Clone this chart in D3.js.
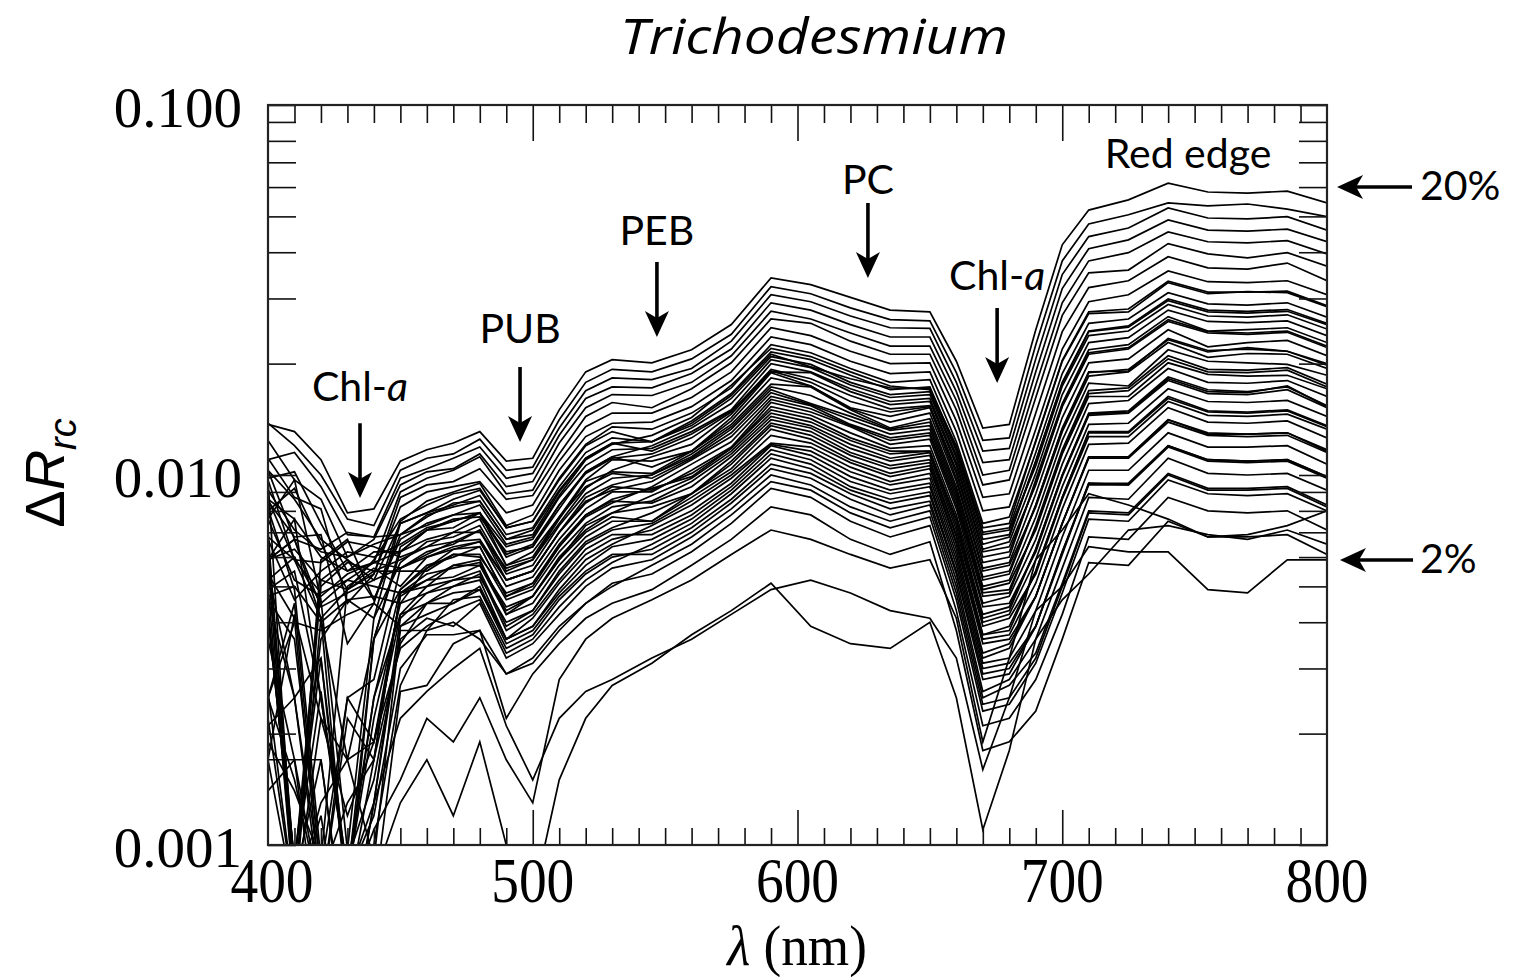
<!DOCTYPE html>
<html><head><meta charset="utf-8">
<script src="https://cdn.jsdelivr.net/npm/d3@7"></script>
<style>
html,body{margin:0;padding:0;background:#fff;}
svg{display:block;}
</style></head>
<body>
<svg id="chart" width="1532" height="977"></svg>
<script>
// Wavelength grid (nm) shared by every spectrum
const wavelengths = [400,410,420,430,440,450,460,470,480,490,500,510,520,530,545,560,575,590,605,620,635,650,660,670,680,690,700,710,725,740,755,770,785,800];

// ΔRrc spectra
const r01 = [.0137,.0131,.0110,.0079,.0081,.0109,.0117,.0122,.0131,.0109,.0111,.0150,.0190,.0205,.0201,.0218,.0255,.0341,.0327,.0302,.0279,.0276,.0203,.0134,.0137,.0247,.0419,.0520,.0554,.0615,.0582,.0578,.0585,.0544];
const r02 = [.0138,.0120,.0100,.0076,.0073,.0103,.0111,.0114,.0125,.0103,.0105,.0141,.0178,.0193,.0190,.0206,.0240,.0323,.0309,.0283,.0263,.0261,.0189,.0124,.0126,.0225,.0379,.0477,.0505,.0544,.0534,.0540,.0523,.0499];
const r03 = [.0110,.0115,.0093,.0069,.0068,.0098,.0104,.0111,.0119,.0098,.0101,.0134,.0169,.0183,.0181,.0194,.0230,.0307,.0294,.0269,.0250,.0249,.0178,.0116,.0118,.0206,.0348,.0441,.0465,.0527,.0495,.0492,.0499,.0459];
const r04 = [.0124,.0097,.0086,.0060,.0067,.0094,.0102,.0104,.0114,.0093,.0096,.0128,.0161,.0173,.0172,.0188,.0219,.0292,.0279,.0255,.0236,.0236,.0168,.0108,.0110,.0190,.0319,.0409,.0432,.0489,.0459,.0456,.0462,.0427];
const r05 = [.0098,.0102,.0074,.0055,.0058,.0090,.0098,.0103,.0112,.0089,.0091,.0122,.0152,.0165,.0164,.0178,.0210,.0277,.0264,.0242,.0223,.0223,.0159,.0100,.0103,.0175,.0292,.0379,.0399,.0454,.0427,.0424,.0430,.0396];
const r06 = [.0111,.0087,.0081,.0045,.0054,.0087,.0094,.0096,.0104,.0086,.0088,.0114,.0144,.0157,.0152,.0171,.0201,.0264,.0257,.0230,.0212,.0212,.0150,.0094,.0097,.0162,.0270,.0352,.0358,.0422,.0396,.0386,.0399,.0367];
const r07 = [.0080,.0092,.0065,.0049,.0054,.0082,.0090,.0093,.0096,.0079,.0083,.0109,.0135,.0147,.0147,.0162,.0190,.0250,.0238,.0216,.0200,.0201,.0140,.0087,.0089,.0147,.0244,.0321,.0335,.0389,.0363,.0360,.0374,.0335];
const r08 = [.0085,.0068,.0069,.0035,.0045,.0075,.0085,.0090,.0095,.0073,.0078,.0103,.0127,.0138,.0139,.0153,.0180,.0236,.0225,.0203,.0188,.0190,.0131,.0080,.0082,.0133,.0219,.0294,.0307,.0356,.0333,.0331,.0335,.0307];
const r09 = [.0103,.0086,.0067,.0059,.0052,.0074,.0079,.0086,.0091,.0072,.0075,.0098,.0121,.0135,.0133,.0147,.0172,.0225,.0214,.0194,.0178,.0181,.0123,.0074,.0077,.0123,.0203,.0273,.0276,.0331,.0309,.0313,.0311,.0285];
const r10 = [.0076,.0097,.0046,.00097,.0041,.0074,.0079,.0083,.0088,.0069,.0072,.0093,.0115,.0126,.0123,.0140,.0166,.0215,.0205,.0186,.0170,.0173,.0118,.0070,.0072,.0115,.0188,.0257,.0264,.0311,.0290,.0288,.0292,.0267];
const r11 = [.0091,.0071,.0062,.0060,.0065,.0069,.0077,.0084,.0085,.0067,.0069,.0090,.0111,.0122,.0123,.0136,.0161,.0209,.0199,.0178,.0165,.0168,.0113,.0067,.0069,.0109,.0177,.0244,.0251,.0296,.0276,.0274,.0277,.0255];
const r12 = [.0067,.00086,.0052,.0059,.0046,.0067,.0074,.0078,.0079,.0064,.0067,.0087,.0106,.0117,.0118,.0131,.0150,.0200,.0190,.0171,.0158,.0161,.0108,.0063,.0066,.0101,.0165,.0228,.0235,.0279,.0260,.0258,.0261,.0238];
const r13 = [.0086,.0076,.0060,.0055,.0062,.0062,.0071,.0075,.0079,.0061,.0065,.0083,.0101,.0111,.0114,.0126,.0148,.0193,.0182,.0164,.0151,.0154,.0103,.0060,.0062,.0095,.0154,.0214,.0221,.0263,.0244,.0242,.0245,.0223];
const r14 = [.0059,.0067,.0041,.00071,.0036,.0062,.0071,.0072,.0079,.0057,.0062,.0077,.0097,.0110,.0109,.0116,.0143,.0189,.0174,.0152,.0144,.0152,.0098,.0056,.0058,.0089,.0143,.0201,.0206,.0247,.0222,.0228,.0231,.0210];
const r15 = [.0097,.0059,.0058,.0066,.0064,.0060,.0064,.0070,.0070,.0056,.0059,.0076,.0096,.0102,.0101,.0116,.0137,.0176,.0173,.0150,.0134,.0142,.0093,.0053,.0055,.0083,.0133,.0189,.0193,.0232,.0215,.0221,.0216,.0198];
const r16 = [.0071,.00071,.0050,.0058,.0055,.0059,.0064,.0066,.0071,.0054,.0057,.0073,.0089,.0098,.0100,.0112,.0133,.0170,.0156,.0144,.0132,.0136,.0089,.0050,.0052,.0077,.0124,.0177,.0174,.0218,.0203,.0201,.0199,.0186];
const r17 = [.0068,.0059,.0048,.0052,.0058,.0056,.0062,.0065,.0071,.0052,.0055,.0070,.0085,.0091,.0096,.0110,.0127,.0163,.0154,.0137,.0126,.0130,.0085,.0048,.0049,.0072,.0115,.0166,.0169,.0206,.0190,.0189,.0192,.0173];
const r18 = [.0081,.0049,.00091,.0050,.0056,.0050,.0060,.0063,.0066,.0050,.0053,.0067,.0081,.0090,.0090,.0103,.0119,.0157,.0148,.0135,.0121,.0125,.0081,.0045,.0047,.0067,.0107,.0156,.0159,.0194,.0178,.0177,.0180,.0163];
const r19 = [.0059,.0063,.0052,.0049,.0055,.0055,.0055,.0061,.0060,.0048,.0051,.0065,.0078,.0086,.0092,.0099,.0118,.0150,.0142,.0126,.0116,.0116,.0076,.0042,.0044,.0063,.0100,.0146,.0148,.0182,.0168,.0167,.0174,.0153];
const r20 = [.0062,.00086,.0026,.00081,.0022,.0045,.0056,.0061,.0061,.0046,.0049,.0062,.0074,.0082,.0085,.0096,.0114,.0144,.0136,.0121,.0111,.0115,.0073,.0040,.0042,.0059,.0093,.0137,.0138,.0171,.0158,.0157,.0159,.0144];
const r21 = [.0052,.0060,.0045,.0052,.0050,.0048,.0050,.0057,.0059,.0042,.0047,.0059,.0073,.0079,.0082,.0089,.0109,.0138,.0131,.0115,.0106,.0110,.0069,.0037,.0039,.0055,.0087,.0130,.0130,.0161,.0148,.0147,.0149,.0135];
const r22 = [.0055,.0025,.00071,.0022,.0017,.0048,.0052,.0053,.0057,.0042,.0045,.0057,.0068,.0075,.0075,.0089,.0104,.0133,.0125,.0110,.0101,.0106,.0066,.0036,.0037,.0051,.0081,.0121,.0122,.0152,.0139,.0138,.0140,.0126];
const r23 = [.0049,.0055,.0025,.00086,.0025,.0042,.0050,.0052,.0053,.0040,.0043,.0054,.0065,.0071,.0074,.0085,.0100,.0122,.0119,.0105,.0096,.0101,.0063,.0033,.0035,.0047,.0074,.0112,.0112,.0141,.0130,.0129,.0130,.0117];
const r24 = [.0050,.00071,.0022,.0017,.0019,.0042,.0045,.0050,.0052,.0036,.0041,.0051,.0061,.0067,.0071,.0080,.0095,.0120,.0113,.0099,.0091,.0095,.0059,.0031,.0032,.0043,.0068,.0103,.0103,.0130,.0119,.0119,.0120,.0107];
const r25 = [.0025,.0045,.00081,.0013,.0017,.0035,.0045,.0045,.0050,.0036,.0039,.0048,.0057,.0064,.0067,.0076,.0091,.0114,.0107,.0093,.0086,.0090,.0055,.0029,.0030,.0039,.0062,.0095,.0095,.0120,.0110,.0109,.0110,.0099];
const r26 = [.0036,.0017,.0017,.00052,.0013,.0038,.0038,.0046,.0047,.0034,.0037,.0046,.0054,.0060,.0063,.0072,.0086,.0107,.0101,.0089,.0081,.0085,.0052,.0026,.0028,.0036,.0056,.0087,.0086,.0111,.0101,.0100,.0101,.0091];
const r27 = [.0021,.0025,.00081,.00091,.0015,.0036,.0041,.0039,.0045,.0032,.0035,.0042,.0050,.0056,.0059,.0068,.0081,.0100,.0094,.0082,.0075,.0080,.0048,.0024,.0025,.0032,.0050,.0079,.0078,.0100,.0091,.0091,.0092,.0082];
const r28 = [.0022,.00071,.0012,.00043,.0010,.0027,.0038,.0040,.0036,.0029,.0032,.0039,.0045,.0051,.0054,.0062,.0074,.0092,.0087,.0075,.0068,.0073,.0043,.0021,.0022,.0028,.0042,.0068,.0067,.0087,.0080,.0079,.0080,.0071];
const r29 = [.0014,.0017,.00049,.00071,.00071,.0026,.0027,.0035,.0038,.0022,.0029,.0035,.0041,.0045,.0049,.0057,.0067,.0082,.0078,.0067,.0061,.0066,.0038,.0018,.0019,.0023,.0036,.0058,.0057,.0075,.0068,.0068,.0069,.0061];
const r30 = [.0025,.0015,.00071,.00081,.0013,.0022,.0026,.0030,.0034,.0021,.0015,.0022,.0026,.0028,.0032,.0036,.0042,.0049,.0052,.0048,.0043,.0041,.0032,.0016,.0025,.0043,.0050,.0064,.0062,.0062,.0049,.0048,.0059,.0059];
const r31 = [.0017,.00071,.00086,.00052,.00081,.0013,.0017,.0012,.0019,.0010,.00071,.0015,.0022,.0027,.0031,.0037,.0043,.0051,.0039,.0035,.0034,.0040,.0025,.0011,.0018,.0036,.0046,.0054,.0071,.0073,.0069,.0067,.0071,.0065];
const r32 = [.0019,.0014,.00091,.00071,.0011,.0015,.0022,.0019,.0025,.0017,.0013,.0028,.0036,.0041,.0046,.0052,.0061,.0071,.0067,.0061,.0056,.0059,.0041,.0019,.0032,.0059,.0071,.0089,.0083,.0076,.0068,.0069,.0073,.0080];
const m01 = [.0097,.00071,.0059,.0067,.0046,.0069,.0073,.0078,.0083,.0065,.0068,.0088,.0110,.0121,.0128,.0143,.0175,.0220,.0209,.0190,.0174,.0170,.0120,.0072,.0074,.0124,.0204,.0276,.0281,.0334,.0312,.0312,.0314,.0287];
const m02 = [.0086,.0059,.0041,.0049,.0059,.0076,.0083,.0089,.0092,.0072,.0075,.0097,.0120,.0131,.0123,.0138,.0164,.0212,.0196,.0182,.0172,.0171,.0116,.0069,.0071,.0106,.0174,.0238,.0245,.0289,.0269,.0267,.0271,.0248];
const m03 = [.0059,.0076,.0025,.00081,.0036,.0064,.0071,.0076,.0077,.0062,.0064,.0083,.0102,.0112,.0120,.0134,.0156,.0205,.0195,.0175,.0162,.0165,.0111,.0065,.0068,.0109,.0178,.0245,.0253,.0299,.0279,.0277,.0280,.0257];
const m04 = [.0103,.0067,.0063,.0070,.0068,.0069,.0078,.0082,.0085,.0067,.0071,.0091,.0111,.0122,.0116,.0129,.0149,.0190,.0189,.0168,.0155,.0158,.0106,.0062,.0064,.0094,.0153,.0212,.0219,.0260,.0242,.0240,.0243,.0221];
const m05 = [.0041,.00091,.0036,.0046,.0041,.0058,.0066,.0068,.0073,.0055,.0059,.0074,.0092,.0103,.0112,.0121,.0146,.0191,.0178,.0158,.0148,.0153,.0101,.0058,.0060,.0097,.0156,.0218,.0225,.0268,.0245,.0247,.0250,.0228];
const m06 = [.0067,.0046,.0055,.0062,.0060,.0065,.0072,.0075,.0079,.0060,.0064,.0081,.0102,.0112,.0105,.0116,.0140,.0183,.0174,.0151,.0139,.0147,.0096,.0055,.0057,.0082,.0131,.0185,.0190,.0228,.0208,.0213,.0212,.0194];
const m07 = [.0046,.0036,.00086,.0025,.0028,.0056,.0060,.0064,.0066,.0052,.0055,.0070,.0087,.0094,.0100,.0114,.0135,.0173,.0164,.0147,.0133,.0139,.0091,.0052,.0054,.0083,.0134,.0190,.0191,.0234,.0217,.0219,.0216,.0200];
const m08 = [.0076,.0052,.0047,.0054,.0058,.0062,.0067,.0070,.0076,.0057,.0060,.0077,.0093,.0101,.0098,.0111,.0130,.0167,.0155,.0141,.0129,.0133,.0087,.0049,.0051,.0071,.0114,.0163,.0163,.0201,.0187,.0185,.0186,.0171];
const m09 = [.0058,.00071,.0041,.0017,.0036,.0049,.0057,.0060,.0064,.0047,.0050,.0064,.0077,.0084,.0093,.0107,.0123,.0160,.0151,.0136,.0124,.0128,.0083,.0047,.0048,.0073,.0117,.0169,.0172,.0210,.0193,.0192,.0195,.0176];
const m10 = [.0059,.0067,.0044,.0048,.0052,.0056,.0061,.0066,.0067,.0052,.0055,.0070,.0084,.0093,.0091,.0101,.0118,.0153,.0145,.0130,.0118,.0120,.0078,.0044,.0045,.0062,.0099,.0145,.0147,.0180,.0166,.0165,.0170,.0152];
const m11 = [.0054,.0041,.00071,.0025,.0019,.0047,.0052,.0057,.0057,.0044,.0047,.0060,.0071,.0079,.0088,.0098,.0116,.0147,.0139,.0124,.0114,.0116,.0075,.0041,.0043,.0063,.0100,.0147,.0149,.0184,.0170,.0168,.0173,.0154];
const m12 = [.0046,.0025,.0032,.00081,.0025,.0049,.0056,.0063,.0064,.0047,.0051,.0064,.0078,.0085,.0084,.0093,.0112,.0141,.0134,.0118,.0109,.0113,.0071,.0039,.0041,.0054,.0086,.0127,.0127,.0158,.0145,.0144,.0146,.0133];
const m13 = [.0047,.0050,.0040,.0046,.0047,.0045,.0048,.0052,.0055,.0039,.0043,.0055,.0066,.0072,.0079,.0089,.0107,.0136,.0128,.0113,.0104,.0108,.0068,.0037,.0038,.0055,.0087,.0131,.0131,.0163,.0149,.0148,.0150,.0136];
const m14 = [.0041,.00091,.0032,.00071,.0017,.0048,.0054,.0056,.0058,.0043,.0047,.0059,.0070,.0077,.0075,.0087,.0102,.0128,.0122,.0108,.0099,.0104,.0065,.0035,.0036,.0047,.0074,.0111,.0111,.0139,.0128,.0127,.0128,.0115];
const m15 = [.0025,.0040,.0038,.0042,.0045,.0039,.0045,.0048,.0049,.0036,.0039,.0049,.0059,.0065,.0073,.0083,.0098,.0121,.0116,.0102,.0094,.0098,.0061,.0032,.0034,.0047,.0074,.0112,.0112,.0141,.0129,.0129,.0130,.0116];
const m16 = [.0044,.00081,.0017,.00049,.0013,.0041,.0048,.0050,.0054,.0038,.0042,.0052,.0063,.0069,.0069,.0078,.0093,.0117,.0110,.0096,.0089,.0093,.0057,.0030,.0031,.0039,.0062,.0094,.0094,.0119,.0109,.0108,.0109,.0098];
const m17 = [.0017,.0042,.0022,.0012,.0019,.0034,.0039,.0043,.0046,.0033,.0036,.0044,.0052,.0058,.0065,.0074,.0089,.0111,.0104,.0091,.0084,.0088,.0054,.0028,.0029,.0039,.0061,.0095,.0094,.0120,.0110,.0109,.0110,.0099];
const m18 = [.0026,.00071,.0013,.0017,.00091,.0039,.0042,.0045,.0049,.0035,.0038,.0047,.0055,.0061,.0061,.0070,.0084,.0104,.0098,.0086,.0078,.0083,.0050,.0025,.0027,.0033,.0051,.0080,.0079,.0101,.0092,.0092,.0093,.0083];
const m19 = [.0017,.0017,.00071,.00081,.0012,.0030,.0037,.0037,.0038,.0029,.0031,.0038,.0045,.0050,.0057,.0065,.0078,.0096,.0091,.0079,.0072,.0077,.0046,.0023,.0024,.0031,.0048,.0076,.0075,.0097,.0089,.0088,.0089,.0080];

const spectra = [r01,r02,r03,r04,r05,r06,r07,r08,r09,r10,r11,r12,r13,r14,r15,r16,r17,r18,r19,r20,r21,r22,r23,r24,r25,r26,r27,r28,r29,r30,r31,r32,
  m01,m02,m03,m04,m05,m06,m07,m08,m09,m10,m11,m12,m13,m14,m15,m16,m17,m18,m19];

// Axis tick labels
const xTickValues = [400,500,600,700,800];
const yTickValues = [0.001,0.01,0.1];
const yTickText = ["0.001","0.010","0.100"];

// Annotations (data coordinates)
const bandLabels = [
  {text:"Chl-", it:"a", wl:434.75, v:.01585},
  {text:"PUB", it:"", wl:495.2, v:.02274},
  {text:"PEB", it:"", wl:546.9, v:.04183},
  {text:"PC", it:"", wl:626.6, v:.05746},
  {text:"Chl-", it:"a", wl:675.4, v:.03162},
  {text:"Red edge", it:"", wl:747.5, v:.06758}
];
const downArrows = [
  {wl:434.75, from:.0138, to:.00867},
  {wl:495.2, from:.01958, to:.01228},
  {wl:546.9, from:.03765, to:.0236},
  {wl:626.6, from:.05434, to:.03407},
  {wl:675.4, from:.02827, to:.01773}
];
const sideArrows = [
  {text:"20%", fromWl:832.1, toWl:803.8, v:.06004, textWl:835.1, textV:.05537},
  {text:"2%", fromWl:832.5, toWl:804.9, v:.005892, textWl:835.1, textV:.00543}
];

// ---------- drawing ----------
const svg = d3.select("#chart");
const L = 268, R = 1327, T = 105, B = 845;
const x = d3.scaleLinear().domain([400,800]).range([L,R]);
const y = d3.scaleLog().domain([0.001,0.1]).range([B,T]);

svg.append("defs").append("clipPath").attr("id","plotclip")
  .append("rect").attr("x",L).attr("y",T).attr("width",R-L).attr("height",B-T);

const line = d3.line()
  .defined((d,i)=> i < wavelengths.length && d > 0)
  .x((d,i)=> x(wavelengths[i]))
  .y(d=> y(d));

svg.append("g").attr("clip-path","url(#plotclip)")
  .selectAll("path").data(spectra).join("path")
  .attr("d", d=> line(d))
  .attr("fill","none").attr("stroke","#000").attr("stroke-width",1.7);

// ticks (inward, all four sides)
const xMinor = d3.range(410,800,10).filter(v=> v%100 !== 0);
const xMajor = [500,600,700];
function noDomain(g){ g.select(".domain").remove(); g.selectAll(".tick line").attr("stroke","#111").attr("stroke-width",1.6); }
svg.append("g").attr("transform",`translate(0,${B})`).call(d3.axisBottom(x).tickValues(xMinor).tickSize(-17).tickFormat("")).call(noDomain);
svg.append("g").attr("transform",`translate(0,${B})`).call(d3.axisBottom(x).tickValues(xMajor).tickSize(-35).tickFormat("")).call(noDomain);
svg.append("g").attr("transform",`translate(0,${T})`).call(d3.axisTop(x).tickValues(xMinor).tickSize(-18).tickFormat("")).call(noDomain);
svg.append("g").attr("transform",`translate(0,${T})`).call(d3.axisTop(x).tickValues(xMajor).tickSize(-36).tickFormat("")).call(noDomain);
const yTicksAll = y.ticks().filter(v=> v>0.001*0.999 && v<0.1*1.001);
svg.append("g").attr("transform",`translate(${L},0)`).call(d3.axisLeft(y).tickValues(yTicksAll).tickSize(-28).tickFormat("")).call(noDomain);
svg.append("g").attr("transform",`translate(${R},0)`).call(d3.axisRight(y).tickValues(yTicksAll).tickSize(-28).tickFormat("")).call(noDomain);

// frame
svg.append("rect").attr("x",L).attr("y",T).attr("width",R-L).attr("height",B-T)
  .attr("fill","none").attr("stroke","#222").attr("stroke-width",2.2);

// tick labels
const serif = "'Liberation Serif','Times New Roman',serif";
svg.append("g").selectAll("text").data(xTickValues).join("text")
  .attr("transform", d=> `translate(${x(d)+(d===400?4:0)},902) scale(0.88,1)`)
  .attr("text-anchor","middle").attr("font-family",serif).attr("font-size",63)
  .attr("fill","#000").text(d=> d);
svg.append("g").selectAll("text").data(yTickValues).join("text")
  .attr("x",242).attr("y", d=> y(d)+22)
  .attr("text-anchor","end").attr("font-family",serif).attr("font-size",57)
  .attr("fill","#000").text((d,i)=> yTickText[i]);

// axis titles
const xt = svg.append("text").attr("transform",`translate(797,965) scale(0.95,1)`)
  .attr("text-anchor","middle").attr("font-family",serif).attr("font-size",56).attr("fill","#000");
xt.append("tspan").attr("font-style","italic").text("λ");
xt.append("tspan").text(" (nm)");

const yt = svg.append("text").attr("transform","translate(64,473) rotate(-90)")
  .attr("text-anchor","middle").attr("font-family","'Liberation Sans',Arial,sans-serif").attr("font-size",56).attr("fill","#000");
yt.append("tspan").text("Δ");
yt.append("tspan").attr("font-style","italic").text("R");
yt.append("tspan").attr("font-style","italic").attr("font-size",38).attr("dy",12).text("rc");

// title
svg.append("text").attr("x",814).attr("y",54).attr("text-anchor","middle")
  .attr("font-family","'Open Sans',Lato,sans-serif").attr("font-style","italic").attr("font-size",49)
  .attr("textLength",388).attr("lengthAdjust","spacingAndGlyphs")
  .attr("fill","#000").text("Trichodesmium");

// band labels
const sans = "Lato,'Open Sans',sans-serif";
const lab = svg.append("g").selectAll("text").data(bandLabels).join("text")
  .attr("x", d=> x(d.wl)).attr("y", d=> y(d.v)).attr("text-anchor","middle")
  .attr("font-family",sans).attr("font-size",41).attr("fill","#000");
lab.append("tspan").text(d=> d.text);
lab.append("tspan").attr("font-style","italic").text(d=> d.it);

// vertical arrows
const ag = svg.append("g");
downArrows.forEach(a=>{
  const ax = x(a.wl), y0 = y(a.from), y1 = y(a.to);
  ag.append("line").attr("x1",ax).attr("x2",ax).attr("y1",y0).attr("y2",y1-14)
    .attr("stroke","#000").attr("stroke-width",3.6);
  ag.append("path").attr("d",`M${ax},${y1} L${ax-12},${y1-26} L${ax},${y1-19} L${ax+12},${y1-26} Z`).attr("fill","#000");
});
// side arrows
sideArrows.forEach(a=>{
  const x0 = x(a.fromWl), x1 = x(a.toWl), yy = y(a.v);
  ag.append("line").attr("x1",x0).attr("x2",x1+14).attr("y1",yy).attr("y2",yy)
    .attr("stroke","#000").attr("stroke-width",3.6);
  ag.append("path").attr("d",`M${x1},${yy} L${x1+26},${yy-12} L${x1+19},${yy} L${x1+26},${yy+12} Z`).attr("fill","#000");
  ag.append("text").attr("x",x(a.textWl)).attr("y",y(a.textV)).attr("font-family",sans)
    .attr("font-size",41).attr("fill","#000").text(a.text);
});
</script>
</body></html>
